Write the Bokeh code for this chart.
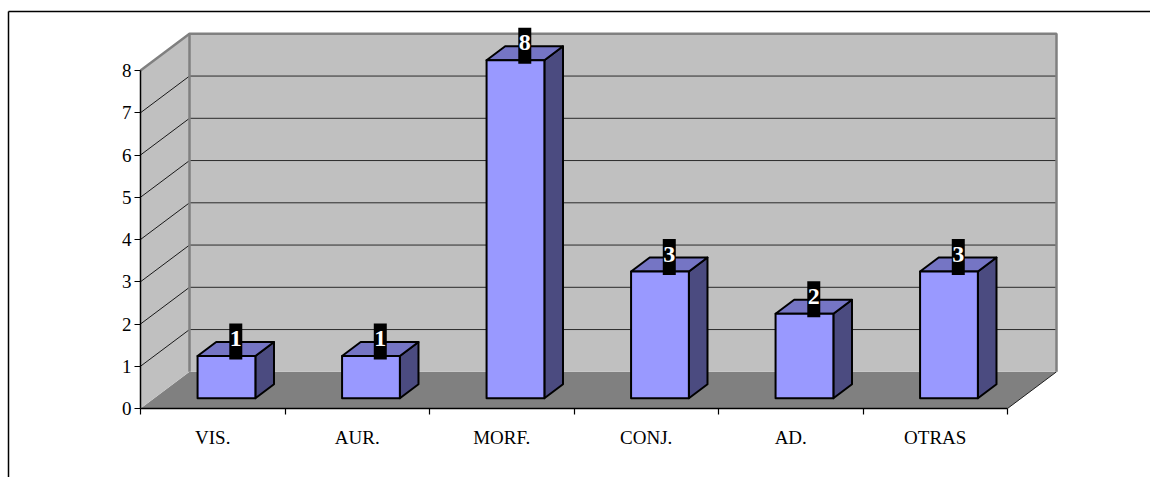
from bokeh.plotting import figure
from bokeh.models import LinearAxis, FixedTicker, Range1d
from bokeh.core.properties import value
from bokeh.embed import file_html
from bokeh.resources import INLINE

# ---- data -------------------------------------------------------------
categories = ["VIS.", "AUR.", "MORF.", "CONJ.", "AD.", "OTRAS"]
counts = [1, 1, 8, 3, 2, 3]
y_ticks = [0, 1, 2, 3, 4, 5, 6, 7, 8]
y_max = 8

# ---- pixel geometry of the 3-D box --------------------------------------
W, H = 1150, 477
X0, Y0 = 140, 408          # screen position of the front-left corner (0, 0)
SX, SY = 144.5, 42.25      # pixels per category / per unit
DX, DY = 49 / SX, 36.7 / SY  # full depth of the box, in data units
Z_FRONT, Z_DEPTH = 0.28, 0.38  # bar slot inside the depth
BAR_W = 0.40

n = len(categories)
SERIF = "Liberation Serif"

p = figure(width=W, height=H, min_border=0, toolbar_location=None,
           output_backend="svg", x_axis_location=None, y_axis_location=None,
           x_range=Range1d(-X0 / SX, (W - X0) / SX),
           y_range=Range1d(-(H - Y0) / SY, Y0 / SY))
p.outline_line_color = None
p.grid.visible = False
p.background_fill_color = "white"
p.border_fill_color = "white"

# outer chart-area border (top and left edges)
bx = (8 - X0) / SX
by = (Y0 - 11) / SY
p.segment(x0=[bx, bx], y0=[by, by], x1=[(W - X0) / SX, bx], y1=[by, -(H - Y0) / SY],
          line_color="black", line_width=1.5)

# floor
p.patch([0, n, n + DX, DX], [0, 0, DY, DY], fill_color="#808080", line_color=None)
p.segment(x0=[n], y0=[0], x1=[n + DX], y1=[DY], line_color="#202020", line_width=1)

# side wall and back wall
p.patch([0, DX, DX, 0], [0, DY, y_max + DY, y_max], fill_color="#c0c0c0", line_color=None)
p.patch([DX, n + DX, n + DX, DX], [DY, DY, y_max + DY, y_max + DY],
        fill_color="#c0c0c0", line_color=None)

# gridlines on both walls
grid_vals = [t for t in y_ticks if 0 < t < y_max]
p.segment(x0=[0] * len(grid_vals), y0=grid_vals,
          x1=[DX] * len(grid_vals), y1=[g + DY for g in grid_vals],
          line_color="#1a1a1a", line_width=1)
p.segment(x0=[DX] * len(grid_vals), y0=[g + DY for g in grid_vals],
          x1=[n + DX] * len(grid_vals), y1=[g + DY for g in grid_vals],
          line_color="#2a2a2a", line_width=1)

# wall edges
p.line([0, DX, n + DX, n + DX], [y_max, y_max + DY, y_max + DY, DY],
       line_color="#808080", line_width=2.5)
p.segment(x0=[DX], y0=[DY], x1=[DX], y1=[y_max + DY], line_color="#808080", line_width=2.5)

# ---- bars ---------------------------------------------------------------
ddx, ddy = Z_DEPTH * DX, Z_DEPTH * DY
front_x, front_y, top_x, top_y, side_x, side_y = [], [], [], [], [], []
lab_x, box_y, txt_y, lab_txt = [], [], [], []
for i, v in enumerate(counts):
    xl = i + 0.5 - BAR_W / 2 + Z_FRONT * DX
    xr = xl + BAR_W
    yb = Z_FRONT * DY
    yt = v + Z_FRONT * DY
    front_x.append([xl, xr, xr, xl]); front_y.append([yb, yb, yt, yt])
    top_x.append([xl, xr, xr + ddx, xl + ddx]); top_y.append([yt, yt, yt + ddy, yt + ddy])
    side_x.append([xr, xr + ddx, xr + ddx, xr]); side_y.append([yb, yb + ddy, yt + ddy, yt])
    mid_top = yt + ddy / 2
    lab_x.append((xl + xr) / 2 + ddx / 2)
    box_y.append(mid_top + 7.5 / SY)
    txt_y.append(mid_top + 10.5 / SY)
    lab_txt.append(str(v))

p.patches(side_x, side_y, fill_color="#4b4b80", line_color="black", line_width=2,
          line_join="round")
p.patches(top_x, top_y, fill_color="#7575c4", line_color="black", line_width=2,
          line_join="round")
p.patches(front_x, front_y, fill_color="#9999ff", line_color="black", line_width=2,
          line_join="round")

# value labels
p.rect(x=lab_x, y=box_y, width=13, height=36, width_units="screen",
       height_units="screen", fill_color="black", line_color=None)
p.text(x=lab_x, y=txt_y, text=lab_txt, text_color="white",
       text_font=value(SERIF), text_font_style="bold", text_font_size="24px",
       text_align="center", text_baseline="middle")

# ---- axes ---------------------------------------------------------------
yax = LinearAxis(fixed_location=0, bounds=(0, y_max),
                 ticker=FixedTicker(ticks=y_ticks, minor_ticks=[]))
yax.major_tick_out = 6
yax.major_tick_in = 0
yax.minor_tick_out = 0
yax.minor_tick_in = 0
yax.axis_line_width = 1.5
yax.major_tick_line_width = 1.2
yax.major_label_standoff = 3
yax.major_label_text_font = SERIF
yax.major_label_text_font_size = "19px"
yax.major_label_text_color = "black"
p.add_layout(yax, "left")

centers = [i + 0.5 for i in range(n)]
xax = LinearAxis(fixed_location=0, bounds=(0, n),
                 ticker=FixedTicker(ticks=centers, minor_ticks=list(range(n + 1))))
xax.major_label_overrides = {c: lab for c, lab in zip(centers, categories)}
xax.major_tick_out = 0
xax.major_tick_in = 0
xax.minor_tick_out = 6
xax.minor_tick_in = 0
xax.minor_tick_line_color = "black"
xax.minor_tick_line_width = 1.2
xax.axis_line_width = 1.5
xax.major_label_standoff = 12
xax.major_label_text_font = SERIF
xax.major_label_text_font_size = "19px"
xax.major_label_text_color = "black"
p.add_layout(xax, "below")

open("out.html", "w").write(file_html(p, INLINE))
